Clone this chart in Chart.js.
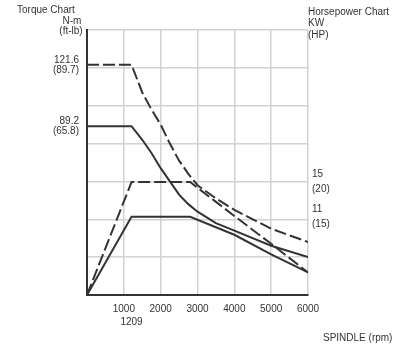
<!DOCTYPE html>
<html>
<head>
<meta charset="utf-8">
<script src="https://cdn.jsdelivr.net/npm/chart.js@4.4.0/dist/chart.umd.min.js"></script>
<style>
  html, body { margin: 0; padding: 0; background: #fff; }
  canvas { display: block; }
</style>
</head>
<body>
<canvas id="myChart" width="415" height="351"></canvas>
<script>
// spindle speed (rpm) for the torque curves
const torqueRpm = [0, 1209, 1500, 1750, 2000, 2250, 2500, 2750, 3000, 3500, 4000, 5000, 6000];
// N-m, short duty (dashed) and continuous (solid)
const torqueMax = [121.6, 121.6, 107, 98, 90, 80, 71, 64, 58, 51, 45, 35, 28];
const torqueCont = [89.2, 89.2, 82, 75, 67, 60, 53, 48, 44, 38, 34, 26, 20];

// spindle speed (rpm) for the power curves
const powerRpm = [0, 1209, 2800, 4000, 5000, 6000];
// kW
const powerMax = [0, 15, 15, 10.5, 6.8, 3];
const powerCont = [0, 10.4, 10.4, 8.0, 5.4, 3];

// axis ticks
const rpmTicks = [1000, 1209, 2000, 3000, 4000, 5000, 6000];
const rpmLabels = ["1000", ["", "1209"], "2000", "3000", "4000", "5000", "6000"];
const torqueGrid = [0, 20, 40, 60, 80, 100, 120, 140];
const torqueTicks = [121.6, 89.2];
const torqueLabels = [["121.6", "(89.7)"], ["89.2", "(65.8)"]];
const powerTicks = [15, 10.4];
const powerLabels = [["15", "(20)"], ["11", "(15)"]];

const ink = "#333";
const gridGray = "#d2d2d2";
const font = "Liberation Sans, Arial, sans-serif";

function pts(xs, ys) {
    return xs.map((x, i) => ({ x: x, y: ys[i] }));
}

// free text around the plot
const labelsPlugin = {
    id: "labels",
    afterDraw(chart) {
        const c = chart.ctx;
        c.save();
        c.fillStyle = ink;
        c.font = "10px " + font;
        c.textBaseline = "middle";
        c.textAlign = "left";
        c.fillText("Torque Chart", 17, 10);
        c.fillText("Horsepower Chart", 308, 12);
        c.fillText("KW", 308, 23);
        c.fillText("(HP)", 308, 35);
        c.fillText("SPINDLE (rpm)", 323, 338);
        c.textAlign = "center";
        c.fillText("N-m", 72, 21);
        c.fillText("(ft-lb)", 71, 31);
        c.restore();
    },
};

const ctx = document.getElementById("myChart").getContext("2d");

new Chart(ctx, {
    type: "line",
    data: {
        datasets: [
            {
                label: "Torque max",
                data: pts(torqueRpm, torqueMax),
                yAxisID: "y",
                borderDash: [12, 4],
            },
            {
                label: "Torque cont",
                data: pts(torqueRpm, torqueCont),
                yAxisID: "y",
            },
            {
                label: "Power max",
                data: pts(powerRpm, powerMax),
                yAxisID: "y1",
                borderDash: [12, 4],
            },
            {
                label: "Power cont",
                data: pts(powerRpm, powerCont),
                yAxisID: "y1",
            },
        ],
    },
    options: {
        responsive: false,
        animation: false,
        layout: { padding: { top: 30, left: 0, right: 0, bottom: 0 } },
        elements: {
            line: { borderColor: ink, borderWidth: 2, tension: 0, fill: false },
            point: { radius: 0 },
        },
        plugins: {
            legend: { display: false },
            tooltip: { enabled: false },
        },
        scales: {
            x: {
                type: "linear",
                min: 0,
                max: 6000,
                afterBuildTicks: (s) => {
                    s.ticks = rpmTicks.map((v) => ({ value: v }));
                },
                afterFit: (s) => {
                    s.height = 56;
                },
                ticks: {
                    autoSkip: false,
                    maxRotation: 0,
                    padding: 8,
                    color: ink,
                    font: { family: font, size: 10, lineHeight: 1.3 },
                    callback: (v) => rpmLabels[rpmTicks.indexOf(v)],
                },
                grid: {
                    drawTicks: false,
                    lineWidth: 1.5,
                    color: (c) => (c.tick && c.tick.value === 1209 ? "rgba(0,0,0,0)" : gridGray),
                },
                border: { color: ink, width: 2 },
            },
            y: {
                position: "left",
                min: 0,
                max: 140,
                afterBuildTicks: (s) => {
                    s.ticks = torqueGrid.concat(torqueTicks).sort((a, b) => a - b).map((v) => ({ value: v }));
                },
                afterFit: (s) => {
                    s.width = 87;
                },
                ticks: {
                    autoSkip: false,
                    padding: 8,
                    color: ink,
                    font: { family: font, size: 10, lineHeight: 1.0 },
                    callback: (v) => {
                        const i = torqueTicks.indexOf(v);
                        return i >= 0 ? torqueLabels[i] : "";
                    },
                },
                grid: {
                    drawTicks: false,
                    lineWidth: 1.5,
                    color: (c) => (c.tick && torqueGrid.indexOf(c.tick.value) >= 0 ? gridGray : "rgba(0,0,0,0)"),
                },
                border: { color: ink, width: 2 },
            },
            y1: {
                position: "right",
                min: 0,
                max: 35.2,
                afterBuildTicks: (s) => {
                    s.ticks = powerTicks.map((v) => ({ value: v }));
                },
                afterFit: (s) => {
                    s.width = 107;
                },
                ticks: {
                    autoSkip: false,
                    padding: 4,
                    color: ink,
                    font: { family: font, size: 10, lineHeight: 1.5 },
                    callback: (v) => powerLabels[powerTicks.indexOf(v)],
                },
                grid: { display: false, drawTicks: false },
                border: { display: false },
            },
        },
    },
    plugins: [labelsPlugin],
});
</script>
</body>
</html>
